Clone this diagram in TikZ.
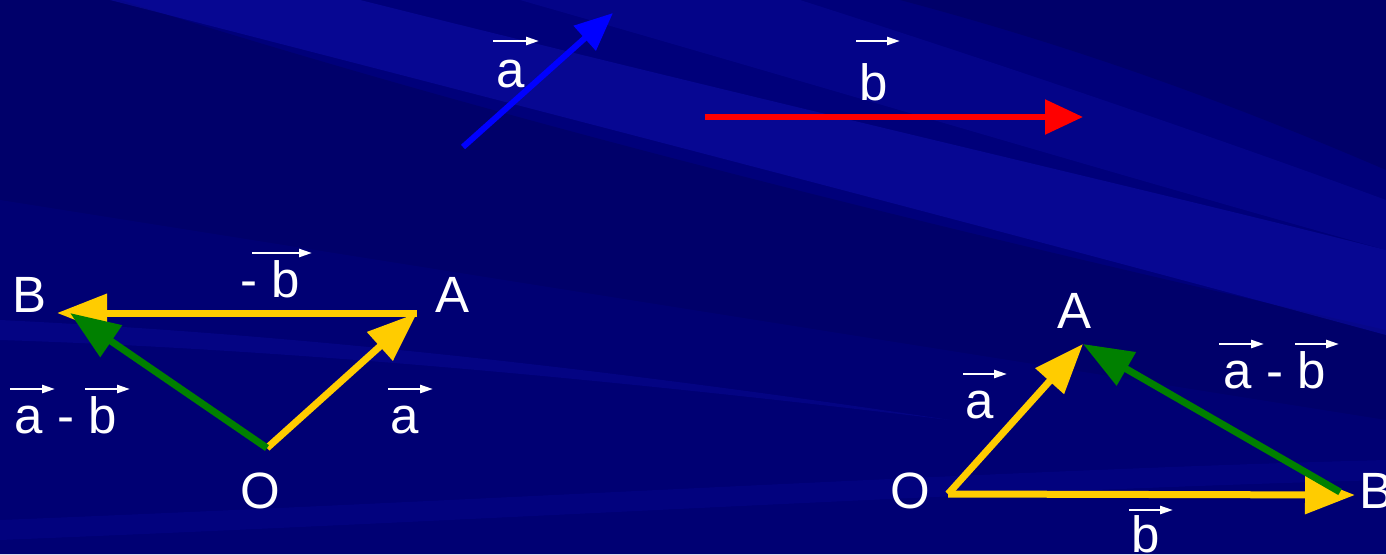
\documentclass[tikz,border=0pt]{standalone}
\usepackage{fontspec}
\setmainfont{Liberation Sans}
\usetikzlibrary{arrows.meta}
\definecolor{bgnavy}{RGB}{0,0,122}
\definecolor{bgdark}{RGB}{0,0,96}
\definecolor{bglight}{RGB}{14,14,170}
\definecolor{vyellow}{RGB}{255,204,0}
\definecolor{vgreen}{RGB}{0,128,0}
\definecolor{vblue}{RGB}{0,0,255}
\definecolor{vred}{RGB}{255,0,0}
\tikzset{
  vec/.style={line width=7pt,-{Triangle[length=50pt,width=37pt]}},
  lab/.style={text=white,anchor=base,inner sep=0pt,font=\fontsize{51}{60}\selectfont},
  ov/.style={draw=white,line width=2.4pt,-{Triangle[length=13pt,width=8pt]}}
}
\newcommand\ovec[4]{\draw[ov] ([shift={(#2,#3)}]#1.base) -- ++(#4,0);}
\begin{document}
\begin{tikzpicture}[x=1pt,y=-1pt]
\useasboundingbox (0,0) rectangle (1386,554);
% background
\fill[bgnavy] (0,0) rectangle (1386,554);
\fill[bgdark,opacity=0.6] (0,0) -- (120,0) .. controls (500,120) and (900,220) .. (1386,330) -- (1386,554) -- (0,554) -- cycle;
\fill[bgnavy,opacity=0.6] (0,200) -- (1386,420) -- (1386,554) -- (0,554) -- cycle;
\fill[bglight,opacity=0.5] (110,0) -- (360,0) .. controls (800,110) and (1150,190) .. (1386,250) -- (1386,335) .. controls (1000,230) and (500,100) .. (110,0) -- cycle;
\fill[bglight,opacity=0.3] (520,0) -- (800,0) .. controls (1050,80) and (1250,150) .. (1386,200) -- (1386,250) .. controls (1100,170) and (800,80) .. (520,0) -- cycle;
\fill[bgdark,opacity=0.6] (900,0) -- (1386,0) -- (1386,170) .. controls (1200,90) and (1050,40) .. (900,0) -- cycle;
\fill[bglight,opacity=0.3] (0,320) .. controls (250,332) and (550,360) .. (950,420) .. controls (550,372) and (250,348) .. (0,340) -- cycle;
\fill[bglight,opacity=0.2] (0,520) .. controls (500,500) and (1000,470) .. (1386,460) -- (1386,480) .. controls (1000,490) and (500,520) .. (0,540) -- cycle;
% top vectors
\coordinate (P1) at (463,147);
\coordinate (P2) at (613,13);
\coordinate (R1) at (705,117);
\coordinate (R2) at (1083,117);
\draw[vblue,line width=6pt,-{Triangle[length=38pt,width=32pt]}] (P1) -- (P2);
\draw[vred,line width=5.5pt,-{Triangle[length=38pt,width=34pt]}] (R1) -- (R2);
\node[lab] (la) at (511,87) {a};
\node[lab] (lb) at (874,100) {b};
\ovec{la}{-18}{-46}{46}
\ovec{lb}{-18}{-59}{44}
% bottom-left triangle
\coordinate (O1) at (267,448);
\coordinate (A1) at (417,313);
\coordinate (B1) at (57,313);
\coordinate (B1t) at (70,313);
\draw[vec,vyellow] (A1) -- (B1);
\draw[vec,vyellow] (O1) -- (A1);
\draw[vec,vgreen] (O1) -- (B1t);
\node[lab] (lB1) at (30,312) {B};
\node[lab] (lA1) at (453,312) {A};
\node[lab] (lO1) at (260,508) {O};
\node[lab] (lmb) at (270,297) {- b};
\node[lab] (lamb) at (66,433) {a - b};
\node[lab] (la1) at (405,433) {a};
\ovec{lmb}{-18}{-44}{60}
\ovec{lamb}{-56}{-44}{45}
\ovec{lamb}{19}{-44}{45}
\ovec{la1}{-17}{-44}{45}
% bottom-right triangle
\coordinate (O2) at (948,494);
\coordinate (A2) at (1083,344);
\coordinate (B2) at (1355,495);
\coordinate (B2g) at (1340,492);
\draw[vec,vyellow] (O2) -- (A2);
\draw[vec,vyellow] (O2) -- (B2);
\draw[vec,vgreen] (B2g) -- (A2);
\node[lab] (lA2) at (1074,328) {A};
\node[lab] (lO2) at (910,508) {O};
\node[lab] (lB2) at (1376,508) {B};
\node[lab] (la2) at (980,418) {a};
\node[lab] (lamb2) at (1275,388) {a - b};
\node[lab] (lb2) at (1146,552) {b};
\ovec{la2}{-17}{-44}{44}
\ovec{lamb2}{-56}{-44}{45}
\ovec{lamb2}{20}{-44}{44}
\ovec{lb2}{-17}{-42}{44}
\end{tikzpicture}
\end{document}
